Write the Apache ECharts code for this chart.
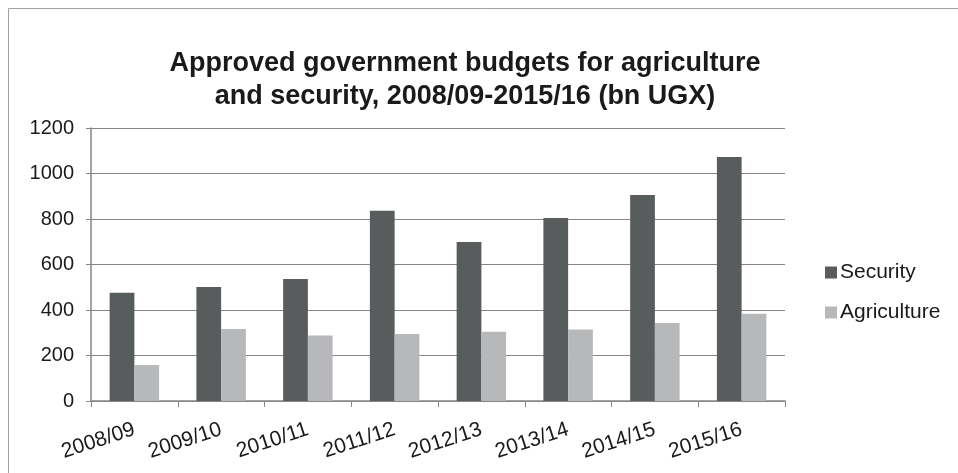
<!DOCTYPE html>
<html><head><meta charset="utf-8">
<script src="https://cdn.jsdelivr.net/npm/echarts@6/dist/echarts.min.js"></script>
<style>html,body{margin:0;padding:0;background:#fff}#c{width:958px;height:473px}</style>
</head><body><div id="c"></div>
<script>
const categories = ['2008/09','2009/10','2010/11','2011/12','2012/13','2013/14','2014/15','2015/16'];
const security = [476, 501, 536, 836, 699, 804, 905, 1073];
const agriculture = [158, 317, 288, 294, 304, 314, 343, 383];
const yTicks = [0, 200, 400, 600, 800, 1000, 1200];
const titleText = 'Approved government budgets for agriculture\nand security, 2008/09-2015/16 (bn UGX)';

const chart = echarts.init(document.getElementById('c'));
const font = 'Liberation Sans, Arial, sans-serif';
chart.setOption({
  animation: false,
  graphic: [{type:'rect', shape:{x:8.5,y:8.5,width:960,height:480}, style:{fill:'none', stroke:'#a0a0a0', lineWidth:1}}],
  title: {text: titleText, left: 460, textAlign: 'center', top: 42,
    textStyle: {fontFamily: font, fontSize: 27, fontWeight: 'bold', color: '#1a1a1a', lineHeight: 33}},
  legend: {orient:'vertical', left: 820, top: 257, itemWidth: 12, itemHeight: 12, itemGap: 19,
    icon: 'rect', textStyle: {fontFamily: font, fontSize: 21, color:'#1a1a1a', padding:[0,0,0,-2]},
    data: ['Security','Agriculture']},
  grid: {left: 91, right: 173, top: 128, bottom: 72, containLabel: false},
  xAxis: {type:'category', data: categories,
    axisLine: {lineStyle:{color:'#868686', width:1.5}},
    axisTick: {show:true, length: 6, lineStyle:{color:'#868686'}},
    axisLabel: {rotate: 18, fontFamily: font, fontSize: 21, color:'#1a1a1a', margin: 28, interval: 0}},
  yAxis: {type:'value', min: yTicks[0], max: yTicks[yTicks.length-1], interval: 200,
    axisLine: {show:true, lineStyle:{color:'#868686', width:1.5}},
    axisTick: {show:true, length: 5, lineStyle:{color:'#868686'}},
    splitLine: {lineStyle:{color:'#868686', width:1}},
    axisLabel: {fontFamily: font, fontSize: 20, color:'#1a1a1a', margin: 17, formatter: v => String(v)}},
  series: [
    {name:'Security', type:'bar', data: security, itemStyle:{color:'#595c5c'}, barGap: '0%', barCategoryGap: '43%'},
    {name:'Agriculture', type:'bar', data: agriculture, itemStyle:{color:'#b7b8ba'}, barGap: '0%', barCategoryGap: '43%'}
  ]
});
</script></body></html>
